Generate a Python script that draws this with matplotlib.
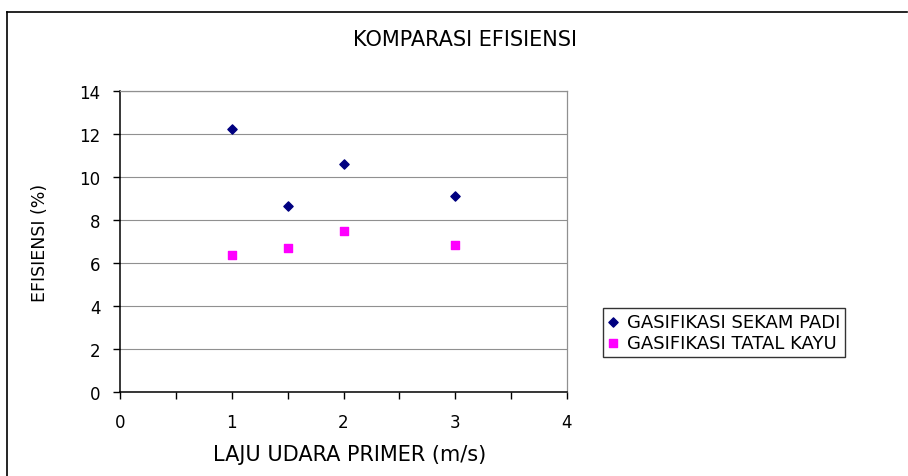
import matplotlib
matplotlib.use("Agg")
import matplotlib.pyplot as plt
from matplotlib.lines import Line2D

plt.rcParams['font.family'] = ['DejaVu Sans']

# data
laju = [1, 1.5, 2, 3]
sekam_padi = [12.22, 8.67, 10.6, 9.12]
tatal_kayu = [6.36, 6.68, 7.50, 6.85]

x_ticks = [0, 1, 2, 3, 4]
y_ticks = [0, 2, 4, 6, 8, 10, 12, 14]

fig = plt.figure(figsize=(9.08, 4.77), dpi=100)
W, H = 908, 477

# outer frame: only top and left lines
fig.add_artist(Line2D([7 / W, 907 / W], [1 - 13 / H, 1 - 13 / H], color='black', lw=1.2))
fig.add_artist(Line2D([7 / W, 7 / W], [0, 1 - 13 / H], color='black', lw=1.2))

ax = fig.add_axes([120 / W, 1 - 393 / H, (567 - 120) / W, (393 - 92) / H])

ax.scatter(laju, sekam_padi, marker='D', s=22, color='#000080', label='GASIFIKASI SEKAM PADI', zorder=3)
ax.scatter(laju, tatal_kayu, marker='s', s=26, color='#FF00FF', label='GASIFIKASI TATAL KAYU', zorder=3)

ax.set_xlim(0, 4)
ax.set_ylim(0, 14)
ax.set_xticks([0, 0.5, 1, 1.5, 2, 2.5, 3, 3.5, 4])
ax.set_xticklabels(['0', '', '1', '', '2', '', '3', '', '4'])
ax.set_yticks(y_ticks)
ax.tick_params(axis='both', direction='out', length=5, width=1, labelsize=12, colors='black')
ax.tick_params(axis='y', pad=9)
ax.tick_params(axis='x', pad=10)
ax.grid(axis='y', color='#909090', lw=0.8)
ax.set_axisbelow(True)
for s in ['left', 'bottom']:
    ax.spines[s].set_color('black')
    ax.spines[s].set_linewidth(1.1)
for s in ['top', 'right']:
    ax.spines[s].set_color('#909090')
    ax.spines[s].set_linewidth(0.9)

ax.set_xlabel('LAJU UDARA PRIMER (m/s)', fontsize=15)
ax.xaxis.set_label_coords((350 - 120) / 447, -(455 - 393) / 301)
ax.xaxis.label.set_va('center')
ax.set_ylabel('EFISIENSI (%)', fontsize=12.5)
ax.yaxis.set_label_coords(-(120 - 40) / 447, 0.5)
ax.yaxis.label.set_va('center')
fig.text(465 / W, 1 - 40 / H, 'KOMPARASI EFISIENSI', ha='center', va='center', fontsize=15)

leg = fig.legend(loc='upper left', bbox_to_anchor=(603 / W, 1 - 309 / H), frameon=True, fancybox=False,
                 edgecolor='black', fontsize=13, handlelength=0.6, handletextpad=0.5,
                 borderpad=0.25, labelspacing=0.2, borderaxespad=0)
leg.get_frame().set_linewidth(1.0)

fig.savefig('out.png', dpi=100)
